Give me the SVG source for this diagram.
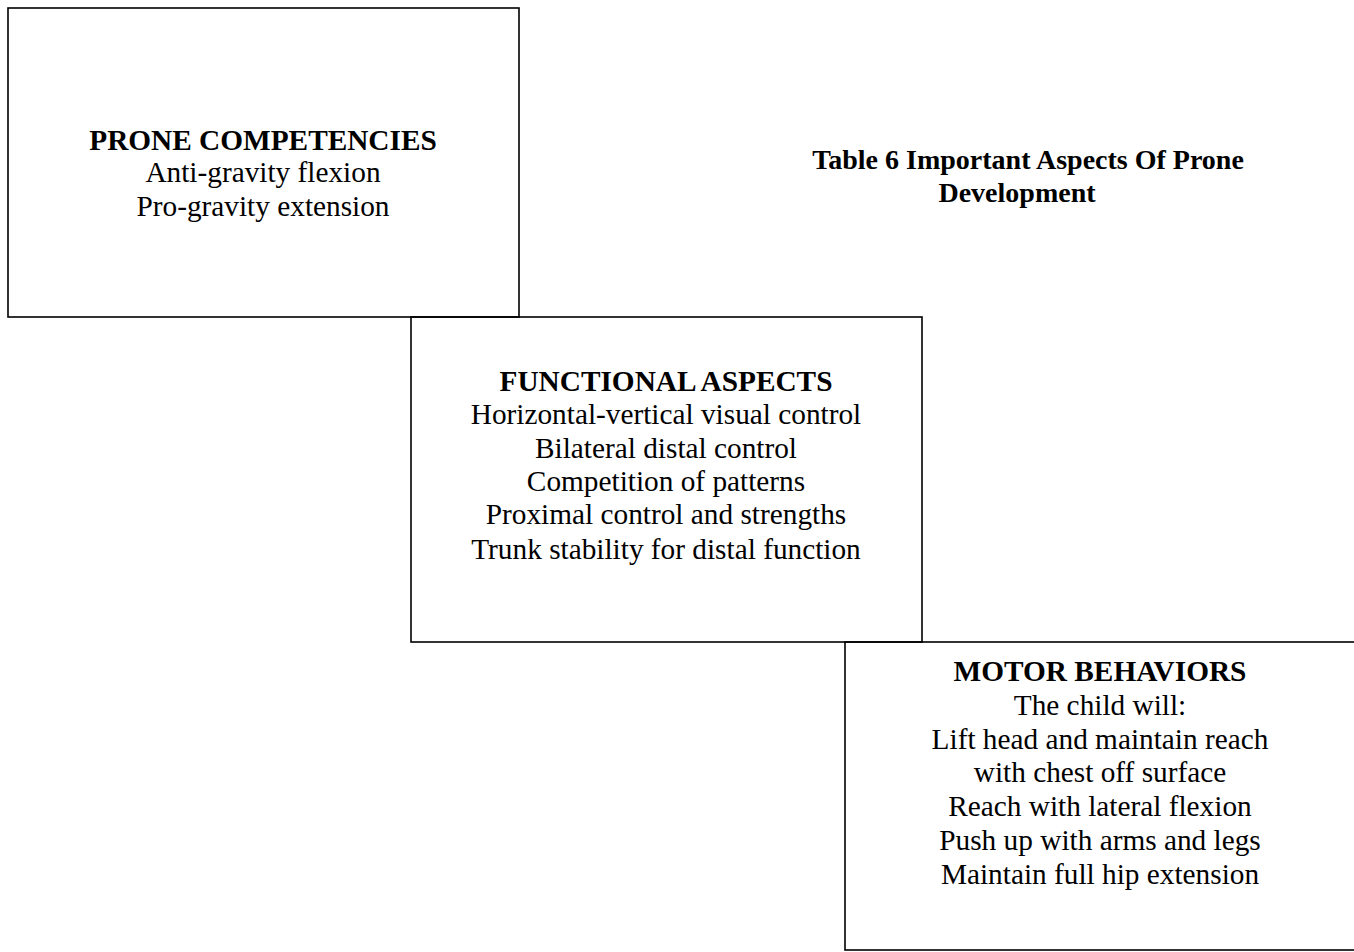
<svg xmlns="http://www.w3.org/2000/svg" width="1354" height="952" viewBox="0 0 1354 952">
<style>
.box{fill:none;stroke:#000;stroke-width:1.6}
text{font-family:'Liberation Serif','DejaVu Serif',serif;font-size:29.3px;fill:#000;text-anchor:middle}
.b{font-weight:bold}
.t{font-size:28px}
</style>
<rect width="1354" height="952" fill="#fff"/>
<g id="title">
<text class="b t" x="1028" y="169">Table 6 Important Aspects Of Prone</text>
<text class="b t" x="1017" y="202">Development</text>
</g>
<g id="prone">
<rect class="box" x="8" y="8" width="511" height="309"/>
<text class="b" x="263" y="150">PRONE COMPETENCIES</text>
<text x="263" y="182">Anti-gravity flexion</text>
<text x="263" y="216">Pro-gravity extension</text>
</g>
<g id="functional">
<rect class="box" x="411" y="317" width="511" height="325"/>
<text class="b" x="666" y="391">FUNCTIONAL ASPECTS</text>
<text x="666" y="424">Horizontal-vertical visual control</text>
<text x="666" y="458">Bilateral distal control</text>
<text x="666" y="491">Competition of patterns</text>
<text x="666" y="524">Proximal control and strengths</text>
<text x="666" y="559">Trunk stability for distal function</text>
</g>
<g id="motor">
<rect class="box" x="845" y="642" width="520" height="308"/>
<text class="b" x="1100" y="681">MOTOR BEHAVIORS</text>
<text x="1100" y="715">The child will:</text>
<text x="1100" y="749">Lift head and maintain reach</text>
<text x="1100" y="782">with chest off surface</text>
<text x="1100" y="816">Reach with lateral flexion</text>
<text x="1100" y="850">Push up with arms and legs</text>
<text x="1100" y="884">Maintain full hip extension</text>
</g>
<g id="connectors"></g>
</svg>
